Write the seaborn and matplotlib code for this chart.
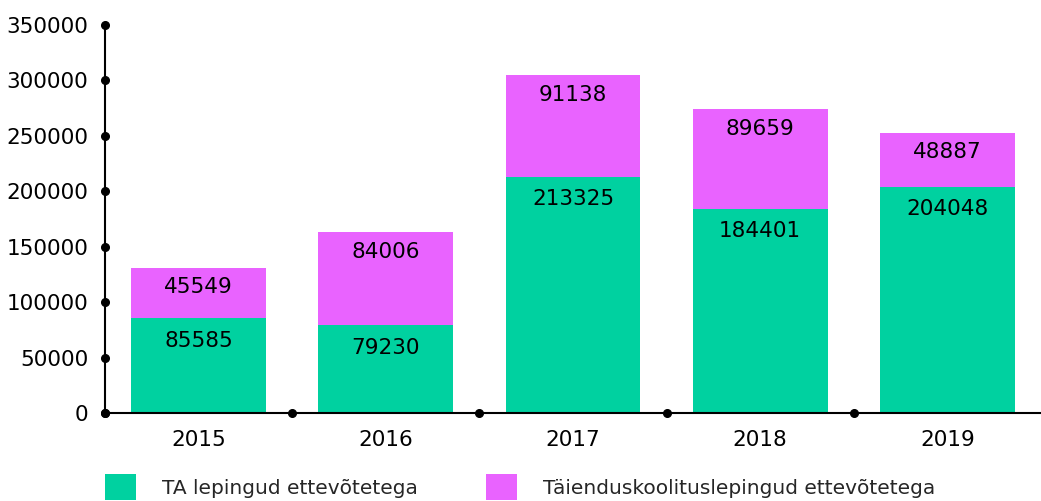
import numpy as np
import pandas as pd
import matplotlib
matplotlib.use("Agg")
import matplotlib.pyplot as plt
from matplotlib.patches import Patch
import seaborn as sns

# data
years = ["2015", "2016", "2017", "2018", "2019"]
ta_lepingud = [85585, 79230, 213325, 184401, 204048]
taiendus = [45549, 84006, 91138, 89659, 48887]
y_ticks = [0, 50000, 100000, 150000, 200000, 250000, 300000, 350000]

GREEN = "#00D1A0"
PINK = "#E963FF"
FS = 15.5

sns.set_style("white")
plt.rcParams["font.family"] = ["DejaVu Sans"]
plt.rcParams["font.size"] = FS

df = pd.DataFrame({"year": years, "ta": ta_lepingud, "extra": taiendus})
df["total"] = df["ta"] + df["extra"]

fig = plt.figure(figsize=(10.41, 5.01), dpi=100)
ax = fig.add_axes([105 / 1041, 1 - 413 / 501, 936 / 1041, 388 / 501])

sns.barplot(data=df, x="year", y="total", color=PINK, width=0.72,
            saturation=1, linewidth=0, edgecolor="none", ax=ax)
sns.barplot(data=df, x="year", y="ta", color=GREEN, width=0.72,
            saturation=1, linewidth=0, edgecolor="none", ax=ax)

ax.set_xlim(-0.5, len(years) - 0.5)
ax.set_ylim(0, 350000)
ax.set_yticks(y_ticks)
ax.set_xlabel("")
ax.set_ylabel("")
ax.tick_params(axis="both", length=0, labelsize=FS, colors="black")
ax.tick_params(axis="y", pad=12)
ax.tick_params(axis="x", pad=12)

for s in ["top", "right"]:
    ax.spines[s].set_visible(False)
for s in ["left", "bottom"]:
    ax.spines[s].set_color("black")
    ax.spines[s].set_linewidth(1.5)

# dotted tick marks
ax.plot(np.full(len(y_ticks), -0.5), y_ticks, "o", color="black",
        markersize=5.5, clip_on=False, zorder=5)
bounds = np.arange(len(years)) - 0.5
ax.plot(bounds, np.zeros(len(bounds)), "o", color="black",
        markersize=5.5, clip_on=False, zorder=5)

# value labels
for i, row in df.iterrows():
    ax.annotate(f"{row['ta']}", (i, row["ta"]), xytext=(0, -9),
                textcoords="offset points", ha="center", va="top",
                fontsize=FS, color="black")
    ax.annotate(f"{row['extra']}", (i, row["total"]), xytext=(0, -7),
                textcoords="offset points", ha="center", va="top",
                fontsize=FS, color="black")

# legend, two separate entries placed like the reference
for col, lab, x0 in [(GREEN, "TA lepingud ettevõtetega", 105),
                     (PINK, "Täienduskoolituslepingud ettevõtetega", 486)]:
    fig.legend(handles=[Patch(facecolor=col, edgecolor="none")], labels=[lab],
               loc="upper left", bbox_to_anchor=(x0 / 1041, 1 - 474 / 501),
               frameon=False, borderpad=0, borderaxespad=0,
               handlelength=1.55, handleheight=1.6, handletextpad=1.3,
               fontsize=14.5)

fig.savefig("out.png", dpi=100)
